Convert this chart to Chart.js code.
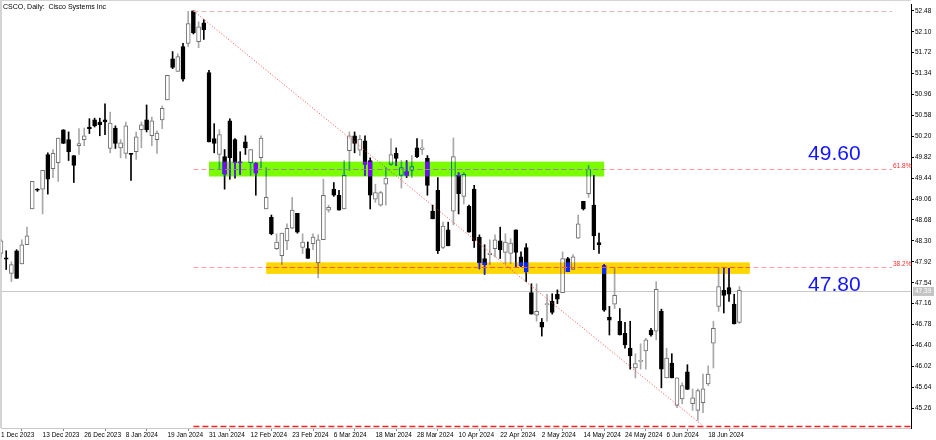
<!DOCTYPE html>
<html>
<head>
<meta charset="utf-8">
<title>CSCO, Daily</title>
<script src="https://cdn.jsdelivr.net/npm/chart.js@4.4.1/dist/chart.umd.min.js"></script>
<style>
	html, body { margin: 0; padding: 0; background: #fff; }
	canvas { display: block; }
</style>
</head>
<body>
<canvas id="csco-chart" width="936" height="440"></canvas>
<script>
/**
 * CSCO daily candles, Dec 2023 - Jun 2024
 */
var chartTitle = 'CSCO, Daily:  Cisco Systems Inc';

var opens = [
	48.07, 47.99, 47.71, 48.12, 47.88, 48.23, 48.88, 49.23, 49.24, 49.87,
	49.61, 49.72, 50.32, 50.14, 49.85, 50.03, 50.14, 50.37, 50.50, 50.46,
	50.50, 49.98, 50.35, 49.99, 49.89, 49.89, 49.92, 50.32, 50.50, 50.21,
	50.14, 50.50, 50.86, 51.61, 51.38, 51.83, 51.89, 52.48, 51.92, 52.26,
	51.36, 50.16, 49.87, 49.83, 50.48, 50.14, 49.73, 50.10, 49.72, 49.71,
	49.81, 48.88, 48.73, 48.16, 48.03, 48.30, 48.53, 48.80, 48.18, 48.16,
	48.25, 47.90, 48.32, 48.86, 49.24, 49.13, 48.88, 49.94, 50.21, 49.95,
	50.12, 49.76, 49.06, 48.95, 49.33, 49.69, 49.89, 49.49, 49.56, 49.58,
	49.99, 49.96, 49.80, 48.84, 49.22, 48.18, 48.50, 48.84, 49.49, 49.11,
	48.93, 49.24, 48.37, 47.98, 48.05, 48.16, 48.30, 48.09, 48.07, 48.50,
	48.01, 48.18, 47.36, 46.95, 46.82, 47.14, 47.20, 47.33, 47.36, 47.98,
	47.78, 48.35, 49.02, 49.16, 48.95, 48.27, 47.85, 46.91, 47.15, 46.84,
	46.62, 46.35, 45.99, 46.11, 46.30, 46.68, 46.66, 47.02, 45.81, 46.08,
	45.31, 45.43, 45.92, 45.34, 45.22, 45.36, 45.70, 46.44, 47.11, 47.40,
	47.45, 47.15, 46.82
];
var highs = [
	48.33, 48.12, 47.92, 48.14, 48.32, 48.55, 49.38, 49.25, 49.58, 49.90,
	49.96, 50.17, 50.32, 50.28, 49.85, 50.34, 50.35, 50.52, 50.53, 50.53,
	50.79, 50.64, 50.39, 50.14, 50.46, 49.89, 50.28, 50.46, 50.77, 50.55,
	50.30, 50.75, 51.31, 51.74, 51.70, 51.89, 52.47, 52.48, 52.28, 52.32,
	51.40, 50.43, 50.32, 49.96, 50.52, 50.16, 49.92, 50.21, 49.96, 49.72,
	50.21, 49.63, 48.77, 48.43, 48.44, 48.61, 49.09, 48.80, 48.43, 48.28,
	48.43, 48.41, 49.42, 48.95, 49.36, 49.22, 49.76, 50.28, 50.28, 50.22,
	50.21, 49.81, 49.33, 49.20, 49.63, 50.16, 49.99, 49.76, 49.76, 49.85,
	50.16, 50.14, 49.85, 48.95, 49.45, 48.64, 48.64, 50.17, 49.54, 49.54,
	48.95, 49.31, 48.41, 48.23, 48.32, 48.41, 48.55, 48.43, 48.34, 48.50,
	48.10, 48.25, 47.52, 47.52, 46.89, 47.33, 47.34, 47.41, 48.10, 48.00,
	48.05, 48.77, 49.02, 49.67, 49.49, 48.44, 47.87, 47.11, 47.80, 47.07,
	46.82, 46.84, 46.25, 46.43, 46.53, 46.71, 47.56, 47.06, 46.35, 46.25,
	45.81, 45.72, 46.05, 45.61, 45.61, 45.88, 46.03, 46.84, 47.80, 47.80,
	47.80, 47.33, 47.47
];
var lows = [
	48.00, 47.78, 47.56, 47.62, 47.88, 48.23, 48.88, 49.20, 48.79, 49.15,
	49.45, 49.38, 50.07, 49.76, 49.36, 49.87, 50.03, 50.25, 50.37, 50.21,
	50.23, 49.90, 49.98, 49.81, 49.80, 49.40, 49.78, 49.99, 50.28, 50.03,
	49.89, 50.34, 50.86, 51.43, 51.38, 51.20, 51.83, 52.06, 51.81, 51.96,
	50.10, 49.90, 49.60, 49.24, 49.42, 49.44, 49.51, 49.87, 49.49, 49.13,
	49.63, 48.88, 48.41, 48.14, 47.87, 48.14, 48.52, 48.44, 48.07, 47.98,
	48.14, 47.63, 48.32, 48.82, 49.11, 48.86, 48.88, 49.58, 49.90, 49.85,
	49.49, 48.88, 49.00, 48.93, 48.95, 49.67, 49.67, 49.26, 49.45, 49.45,
	49.81, 49.87, 49.13, 48.70, 48.07, 48.16, 48.21, 48.59, 48.79, 48.97,
	48.46, 48.18, 47.79, 47.69, 47.87, 48.01, 47.98, 47.89, 47.89, 47.83,
	47.83, 47.56, 46.97, 46.84, 46.57, 46.84, 46.97, 47.16, 47.36, 47.74,
	47.78, 48.34, 48.86, 49.09, 48.14, 48.07, 47.02, 46.59, 47.07, 46.59,
	46.35, 45.97, 45.81, 45.97, 45.97, 46.57, 46.50, 45.63, 45.81, 45.81,
	45.27, 45.34, 45.60, 45.22, 45.04, 45.18, 45.67, 45.99, 47.02, 46.99,
	47.20, 46.79, 46.80
];
var closes = [
	48.30, 47.97, 47.87, 47.62, 48.23, 48.39, 49.38, 49.22, 49.58, 49.42,
	49.89, 50.17, 50.07, 49.92, 49.67, 50.07, 50.21, 50.34, 50.39, 50.41,
	50.46, 50.44, 50.07, 50.08, 50.39, 49.87, 50.19, 50.41, 50.32, 50.48,
	50.26, 50.71, 51.31, 51.45, 51.65, 51.24, 52.25, 52.08, 52.19, 52.14,
	50.10, 50.07, 50.23, 49.51, 49.81, 49.72, 49.72, 49.99, 49.96, 49.53,
	50.17, 49.09, 48.43, 48.28, 48.44, 48.53, 48.86, 48.46, 48.28, 47.98,
	48.37, 48.32, 49.13, 48.91, 49.13, 48.86, 49.49, 50.21, 50.07, 50.15,
	49.69, 49.13, 49.18, 49.18, 49.44, 49.87, 49.80, 49.63, 49.49, 49.65,
	49.83, 49.99, 49.31, 48.70, 48.12, 48.57, 48.21, 49.83, 49.16, 49.51,
	48.46, 48.30, 47.90, 47.87, 48.08, 48.32, 48.14, 48.28, 48.26, 48.09,
	47.85, 47.74, 46.97, 47.02, 46.73, 47.16, 47.00, 47.24, 47.98, 47.74,
	48.01, 48.61, 48.88, 49.60, 48.39, 48.23, 47.04, 46.86, 47.31, 46.59,
	46.41, 46.21, 46.07, 46.12, 46.50, 46.59, 47.42, 45.97, 46.17, 45.81,
	45.81, 45.67, 45.60, 45.45, 45.58, 45.61, 45.88, 46.71, 47.47, 47.31,
	47.33, 46.79, 47.40
];

// time axis: bar index of each date label
var xTickBars = [0, 8, 16, 24, 32, 40, 48, 56, 64, 72, 80, 88, 96, 104, 112, 120, 128, 136];
var xTickLabels = [
	'1 Dec 2023', '13 Dec 2023', '26 Dec 2023', '8 Jan 2024', '19 Jan 2024', '31 Jan 2024',
	'12 Feb 2024', '23 Feb 2024', '6 Mar 2024', '18 Mar 2024', '28 Mar 2024', '10 Apr 2024',
	'22 Apr 2024', '2 May 2024', '14 May 2024', '24 May 2024', '6 Jun 2024', '18 Jun 2024'
];

// price axis
var yTicks = [
	45.26, 45.64, 46.02, 46.40, 46.78, 47.16, 47.54, 47.92, 48.30, 48.68,
	49.06, 49.44, 49.82, 50.20, 50.58, 50.96, 51.34, 51.72, 52.10, 52.48
];

var lastPrice = 47.39;

// fibonacci: high/low anchors (bar index, price)
var fibBars = [37, 135];
var fibPrices = [52.48, 44.94];
var fibRatios = [0.618, 0.382];
var fibLabels = ['61.8%', '38.2%'];

// zones: [low price, high price, first bar, last bar]
var greenZone = [49.47, 49.74, 40, 116];
var goldZone = [47.70, 47.91, 51, 144];

// text notes on the chart
var noteTexts = ['49.60', '47.80'];
var notePrices = [49.87, 47.49];
var noteBar = 155.2;

(function () {
	'use strict';

	var FONT = '"Liberation Sans", Arial, sans-serif';

	var CSCOChart = {
		/**
		 * Initialize
		 */
		init: function () {
			this.renderCandles();
		},

		/**
		 * Fib level price for a ratio
		 */
		fibLevel: function (ratio) {
			return fibPrices[1] + ratio * (fibPrices[0] - fibPrices[1]);
		},

		/**
		 * Dashed horizontal line between two pixels
		 */
		hLine: function (ctx, x1, x2, y, color, dash, width) {
			ctx.save();
			ctx.strokeStyle = color;
			ctx.lineWidth = width || 1;
			ctx.setLineDash(dash || []);
			ctx.beginPath();
			ctx.moveTo(x1, Math.round(y) + 0.5);
			ctx.lineTo(x2, Math.round(y) + 0.5);
			ctx.stroke();
			ctx.restore();
		},

		/**
		 * Overlay objects: fib lines, zones, texts
		 */
		overlayPlugin: function () {
			var self = this;

			return {
				id: 'cscoOverlays',
				beforeDraw: function (chart) {
					// opaque white canvas, needed for the zone blending
					var ctx = chart.ctx;
					ctx.save();
					ctx.fillStyle = '#ffffff';
					ctx.fillRect(0, 0, chart.width, chart.height);
					ctx.restore();
				},
				beforeDatasetsDraw: function (chart) {
					var ctx = chart.ctx;
					var area = chart.chartArea;
					var ys = chart.scales.y;

					// frame on the left and top
					ctx.save();
					ctx.fillStyle = '#d4d4d4';
					ctx.fillRect(0, 0, 2, area.bottom);
					ctx.fillRect(0, 0, area.right, 1);
					ctx.restore();

					// current price line
					self.hLine(ctx, area.left, area.right, ys.getPixelForValue(lastPrice), '#c8c8c8');
				},
				afterDatasetsDraw: function (chart) {
					var ctx = chart.ctx;
					var area = chart.chartArea;
					var xs = chart.scales.x;
					var ys = chart.scales.y;
					var fibLeft = xs.getPixelForValue(fibBars[0]);
					var fibRight = area.right - 19;

					ctx.save();
					ctx.beginPath();
					ctx.rect(area.left, area.top, area.right - area.left, area.bottom - area.top);
					ctx.clip();

					// fib levels
					self.hLine(ctx, fibLeft, fibRight, ys.getPixelForValue(fibPrices[0]), '#e8b4b4', [5, 3]);
					fibRatios.forEach(function (r) {
						self.hLine(ctx, fibLeft, fibRight, ys.getPixelForValue(self.fibLevel(r)), '#f7a0a0', [5, 3]);
					});
					self.hLine(ctx, fibLeft, area.right, ys.getPixelForValue(fibPrices[1]), '#ff2020', [6, 3], 1.5);

					// trend line from the high to the low
					ctx.save();
					ctx.strokeStyle = '#ff4a4a';
					ctx.lineWidth = 1;
					ctx.setLineDash([1, 2]);
					ctx.beginPath();
					ctx.moveTo(xs.getPixelForValue(fibBars[0]), ys.getPixelForValue(fibPrices[0]));
					ctx.lineTo(xs.getPixelForValue(fibBars[1]), ys.getPixelForValue(fibPrices[1]));
					ctx.stroke();
					ctx.restore();

					// zones, inverted over dark bodies
					[[greenZone, 'rgb(131, 3, 255)', '#8c8c8c', 0.618], [goldZone, 'rgb(0, 40, 255)', '#ff5a28', 0.382]].forEach(function (z) {
						var zone = z[0];
						var x1 = xs.getPixelForValue(zone[2]);
						var x2 = xs.getPixelForValue(zone[3]);
						var y1 = ys.getPixelForValue(zone[1]);
						var y2 = ys.getPixelForValue(zone[0]);

						ctx.save();
						ctx.globalCompositeOperation = 'difference';
						ctx.fillStyle = z[1];
						ctx.fillRect(x1, y1, x2 - x1, y2 - y1);
						ctx.restore();

						self.hLine(ctx, x1, x2, ys.getPixelForValue(self.fibLevel(z[3])), z[2], [5, 3]);
					});
					ctx.restore();

					// fib labels
					ctx.save();
					ctx.font = '6.5px ' + FONT;
					ctx.fillStyle = '#ff2a2a';
					ctx.textAlign = 'left';
					ctx.textBaseline = 'alphabetic';
					fibRatios.forEach(function (r, i) {
						ctx.fillText(fibLabels[i], fibRight + 1, ys.getPixelForValue(self.fibLevel(r)) - 1);
					});

					// big notes
					ctx.font = '21px ' + FONT;
					ctx.fillStyle = '#1414ff';
					ctx.textBaseline = 'middle';
					noteTexts.forEach(function (t, i) {
						ctx.fillText(t, xs.getPixelForValue(noteBar), ys.getPixelForValue(notePrices[i]));
					});
					ctx.restore();
				},
				afterDraw: function (chart) {
					var ctx = chart.ctx;
					var area = chart.chartArea;
					var ys = chart.scales.y;
					var py = ys.getPixelForValue(lastPrice);

					ctx.save();

					// title
					ctx.font = '7px ' + FONT;
					ctx.fillStyle = '#000';
					ctx.textAlign = 'left';
					ctx.textBaseline = 'alphabetic';
					ctx.fillText(chartTitle, 3, 9);

					// last price box on the axis
					ctx.fillStyle = '#c4c4c4';
					ctx.fillRect(area.right + 2, Math.round(py) - 4, 21, 9);
					ctx.font = '6.5px ' + FONT;
					ctx.fillStyle = '#fff';
					ctx.textBaseline = 'middle';
					ctx.fillText(lastPrice.toFixed(2), area.right + 4, Math.round(py) + 0.5);
					ctx.restore();
				}
			};
		},

		/**
		 * Render candles as floating bars
		 */
		renderCandles: function () {
			var ctx = document.getElementById('csco-chart');
			if (!ctx) {
				return;
			}

			var isUp = closes.map(function (c, i) {
				return c >= opens[i];
			});
			var bodies = opens.map(function (o, i) {
				return { x: i, y: [o, closes[i]] };
			});
			var wicks = opens.map(function (o, i) {
				return { x: i, y: [lows[i], highs[i]] };
			});

			new Chart(ctx, {
				type: 'bar',
				data: {
					datasets: [
						{
							label: 'Body',
							data: bodies,
							backgroundColor: isUp.map(function (u) { return u ? '#ffffff' : '#000000'; }),
							borderColor: isUp.map(function (u) { return u ? '#6e6e6e' : '#000000'; }),
							borderWidth: 1,
							borderSkipped: false,
							barThickness: 4,
							minBarLength: 1,
							grouped: false,
							order: 1
						},
						{
							label: 'Wick',
							data: wicks,
							backgroundColor: isUp.map(function (u) { return u ? '#a8a8a8' : '#000000'; }),
							borderWidth: 0,
							barThickness: 1,
							grouped: false,
							order: 2
						}
					]
				},
				options: {
					responsive: false,
					animation: false,
					devicePixelRatio: 1,
					events: [],
					layout: {
						padding: { left: 1, top: 1, right: 0, bottom: 0 }
					},
					plugins: {
						legend: { display: false },
						tooltip: { enabled: false }
					},
					scales: {
						x: {
							type: 'linear',
							min: 0,
							max: 175,
							offset: false,
							afterBuildTicks: function (scale) {
								scale.ticks = xTickBars.map(function (v) {
									return { value: v };
								});
							},
							afterFit: function (scale) {
								scale.height = 12;
							},
							grid: {
								drawOnChartArea: false,
								tickLength: 3,
								color: '#8a8a8a'
							},
							border: {
								color: '#c8c8c8'
							},
							ticks: {
								autoSkip: false,
								maxRotation: 0,
								minRotation: 0,
								align: 'start',
								padding: 0,
								color: '#000',
								font: { family: FONT, size: 6.5 },
								callback: function (value, index) {
									return xTickLabels[index];
								}
							}
						},
						y: {
							type: 'linear',
							position: 'right',
							min: 44.90,
							max: 52.588,
							afterBuildTicks: function (scale) {
								scale.ticks = yTicks.map(function (v) {
									return { value: v };
								});
							},
							afterFit: function (scale) {
								scale.width = 25;
							},
							grid: {
								drawOnChartArea: false,
								tickLength: 3,
								color: '#000'
							},
							border: {
								color: '#000'
							},
							ticks: {
								autoSkip: false,
								padding: 1,
								color: '#000',
								font: { family: FONT, size: 6.5 },
								callback: function (value) {
									return value.toFixed(2);
								}
							}
						}
					}
				},
				plugins: [this.overlayPlugin()]
			});
		}
	};

	CSCOChart.init();
})();
</script>
</body>
</html>
